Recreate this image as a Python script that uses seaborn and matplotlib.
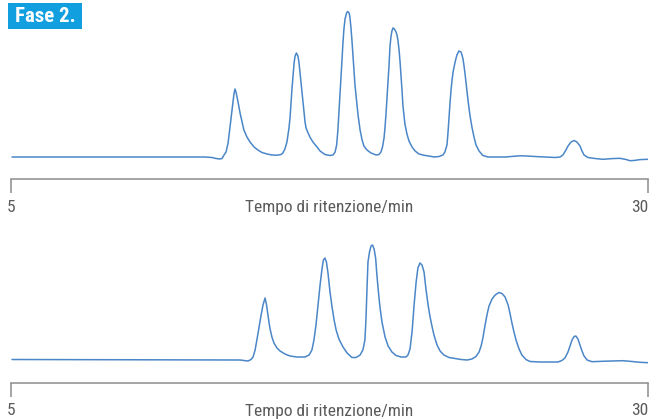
import matplotlib
matplotlib.use("Agg")
import matplotlib.pyplot as plt
from matplotlib.patches import Rectangle
from matplotlib.transforms import offset_copy
import seaborn as sns
import pandas as pd

sns.set_style("white")
plt.rcParams['font.family'] = ['Roboto Condensed', 'DejaVu Sans']
plt.rcParams['font.stretch'] = 'condensed'

# Chromatogram 1 (upper trace): retention time (min) and detector signal (a.u.)
time_1 = [5.04, 8.49, 12.61, 12.89, 13.05, 13.20, 13.28, 13.36, 13.44, 13.52, 13.59,
          13.67, 13.75, 13.79, 13.83, 13.91, 13.99, 14.07, 14.14, 14.26, 14.38, 14.54,
          14.69, 14.85, 15.05, 15.24, 15.44, 15.60, 15.67, 15.75, 15.83, 15.91, 15.95,
          15.99, 16.03, 16.07, 16.11, 16.15, 16.20, 16.26, 16.30, 16.34, 16.38, 16.42,
          16.46, 16.50, 16.54, 16.58, 16.66, 16.73, 16.85, 17.01, 17.13, 17.32, 17.52,
          17.64, 17.72, 17.78, 17.83, 17.87, 17.91, 17.95, 17.99, 18.03, 18.07, 18.11,
          18.17, 18.21, 18.27, 18.30, 18.34, 18.38, 18.42, 18.46, 18.50, 18.56, 18.62,
          18.70, 18.78, 18.85, 18.97, 19.13, 19.33, 19.44, 19.52, 19.58, 19.64, 19.68,
          19.72, 19.76, 19.80, 19.84, 19.87, 19.91, 19.95, 19.99, 20.03, 20.07, 20.11,
          20.15, 20.19, 20.23, 20.27, 20.31, 20.35, 20.38, 20.42, 20.46, 20.54, 20.62,
          20.74, 20.86, 21.01, 21.21, 21.40, 21.60, 21.80, 21.95, 22.03, 22.11, 22.15,
          22.19, 22.23, 22.27, 22.31, 22.35, 22.43, 22.50, 22.58, 22.66, 22.70, 22.74,
          22.78, 22.82, 22.86, 22.90, 22.94, 23.01, 23.09, 23.17, 23.25, 23.37, 23.52,
          23.72, 24.00, 24.39, 24.66, 24.98, 25.25, 25.56, 25.96, 26.35, 26.55, 26.66,
          26.78, 26.86, 26.98, 27.10, 27.21, 27.33, 27.41, 27.49, 27.64, 27.92, 28.23,
          28.59, 28.90, 29.14, 29.29, 29.45, 29.69, 30.00]
signal_1 = [0, 0, 0, -0.5, -1.5, -2, -1.5, 2, 5, 14, 29,
            47, 63, 68, 65, 55, 44, 35, 27, 20, 15, 10,
            7, 4.5, 3, 2, 1.8, 2.5, 4, 8, 15, 29, 39,
            54, 69, 82, 94, 101, 104, 101, 95, 85, 75, 65,
            55, 45, 35, 29, 24, 20, 15, 10, 6, 2.5, 1.5,
            2, 5, 12, 27, 45, 62, 79, 97, 115, 129, 138,
            144, 145.5, 144, 140, 130, 117, 102, 87, 72, 57, 42,
            27, 17, 11, 7, 4, 2, 2.5, 5, 10, 19, 30,
            44, 61, 77, 93, 109, 120, 126, 129, 128.5, 127, 125,
            122, 116, 107, 95, 80, 65, 52, 42, 33, 23, 16,
            10, 6, 3, 1.7, 1, 0, 0.5, 2, 5, 12, 24,
            39, 54, 67, 77, 85, 95, 102, 106, 105, 102, 98,
            91, 83, 74, 65, 56, 42, 30, 20, 12, 6, 1.5,
            0, 0, 0, 0.5, 1.2, 1, 0.5, 0, -0.5, 0, 2,
            7, 11, 15, 16.5, 15, 11, 6, 2, -0.5, -1.5, -2.3,
            -1.6, -1.3, -2.5, -3.7, -3.5, -2.6, -2.3]

# Chromatogram 2 (lower trace)
time_2 = [5.04, 13.99, 14.14, 14.30, 14.42, 14.50, 14.58, 14.65, 14.73, 14.81, 14.89,
          14.97, 15.03, 15.09, 15.16, 15.24, 15.32, 15.44, 15.56, 15.75, 15.95, 16.22,
          16.54, 16.70, 16.81, 16.89, 16.97, 17.05, 17.13, 17.21, 17.26, 17.32, 17.38,
          17.44, 17.52, 17.60, 17.68, 17.76, 17.87, 18.03, 18.19, 18.38, 18.54, 18.70,
          18.81, 18.89, 18.93, 18.97, 19.01, 19.07, 19.13, 19.19, 19.25, 19.31, 19.36,
          19.42, 19.48, 19.56, 19.68, 19.80, 19.95, 20.11, 20.31, 20.50, 20.58, 20.66,
          20.74, 20.82, 20.90, 20.97, 21.05, 21.13, 21.21, 21.29, 21.37, 21.44, 21.52,
          21.60, 21.72, 21.84, 21.99, 22.19, 22.43, 22.66, 22.90, 23.09, 23.25, 23.37,
          23.45, 23.52, 23.60, 23.68, 23.76, 23.88, 24.00, 24.15, 24.27, 24.39, 24.51,
          24.58, 24.66, 24.74, 24.82, 24.94, 25.05, 25.21, 25.37, 25.76, 26.47, 26.62,
          26.74, 26.86, 26.94, 27.02, 27.10, 27.17, 27.25, 27.33, 27.41, 27.49, 27.61,
          27.80, 28.31, 29.02, 29.37, 29.69, 30.00]
signal_2 = [0.5, 0, -0.5, -1, 0.5, 3, 10, 20, 32, 44, 55,
            62, 55, 44, 32, 23, 17, 12, 9, 6, 4, 3,
            3, 5, 10, 20, 35, 55, 75, 92, 100, 102, 98,
            87, 68, 53, 40, 30, 21, 13, 7, 2.5, 2.5, 5,
            10, 20, 40, 70, 98, 108, 114, 115, 111, 102, 85,
            68, 53, 38, 23, 14, 8, 4.5, 3, 3, 5, 11,
            28, 55, 78, 92, 97, 95, 88, 70, 55, 44, 34,
            25, 15, 9, 5, 2.5, 1.5, 0.5, 0, 1, 3.5, 8,
            14, 22, 34, 45, 54, 61, 65, 67.5, 66.5, 63, 55,
            47, 37, 28, 20, 11, 5, 0.5, -1.5, -2, -2, -0.5,
            2, 8, 14, 20, 23.5, 24, 21, 15, 9, 4, 0,
            -1.7, -1.2, -0.7, -1.5, -2.3, -2.7]

tick_values = [5, 30]
tick_labels = ["5", "30"]
axis_title = "Tempo di ritenzione/min"
panel_title = "Fase 2."

LINE = "#4a86c8"
AXIS = "#8c8c8c"
TEXT = "#5a5a5a"
BADGE = "#129fe0"

W, H = 659, 419
fig = plt.figure(figsize=(W / 100, H / 100), dpi=100)


def px_axes(left, top, right, bottom):
    return fig.add_axes([left / W, 1 - bottom / H, (right - left) / W, (bottom - top) / H])


def draw_trace(ax, t, s, ylim, label_drop):
    df = pd.DataFrame({"t": t, "s": s})
    sns.lineplot(data=df, x="t", y="s", ax=ax, color=LINE, linewidth=1.1,
                 estimator=None, sort=False)
    ax.set_xlim(5, 30)
    ax.set_ylim(*ylim)
    ax.set_facecolor("none")
    for side in ("top", "left", "right"):
        ax.spines[side].set_visible(False)
    ax.spines["bottom"].set_color(AXIS)
    ax.spines["bottom"].set_linewidth(1.1)
    ax.set_yticks([])
    ax.set_ylabel("")
    ax.set_xlabel("")
    ax.set_xticks(tick_values)
    ax.set_xticklabels(tick_labels)
    ax.tick_params(axis="x", direction="out", length=10, width=1.1, color=AXIS,
                   pad=label_drop, labelsize=12.5, labelcolor=TEXT, bottom=True)
    ax.get_xticklabels()[-1].set_horizontalalignment("right")
    tr = offset_copy(ax.transAxes, fig=fig, x=0, y=-(21 + label_drop * 100 / 72 + 1),
                     units="dots")
    ax.text(0.5, 0, axis_title, transform=tr, ha="center", va="center",
            fontsize=12.5, color=TEXT)


ax1 = px_axes(11, 5, 648, 179)
draw_trace(ax1, time_1, signal_1, (-22, 152), 5)
ax2 = px_axes(11, 220, 648, 383)
draw_trace(ax2, time_2, signal_2, (-23, 140), 4.5)

# panel badge
fig.patches.append(Rectangle((8 / W, 1 - 29 / H), 74 / W, 26 / H,
                             transform=fig.transFigure, facecolor=BADGE,
                             edgecolor="none", zorder=5))
fig.text(45 / W, 1 - 16.5 / H, panel_title, ha="center", va="center",
         color="white", fontsize=15, fontweight="bold", zorder=6)

fig.savefig("out.png", dpi=100)
